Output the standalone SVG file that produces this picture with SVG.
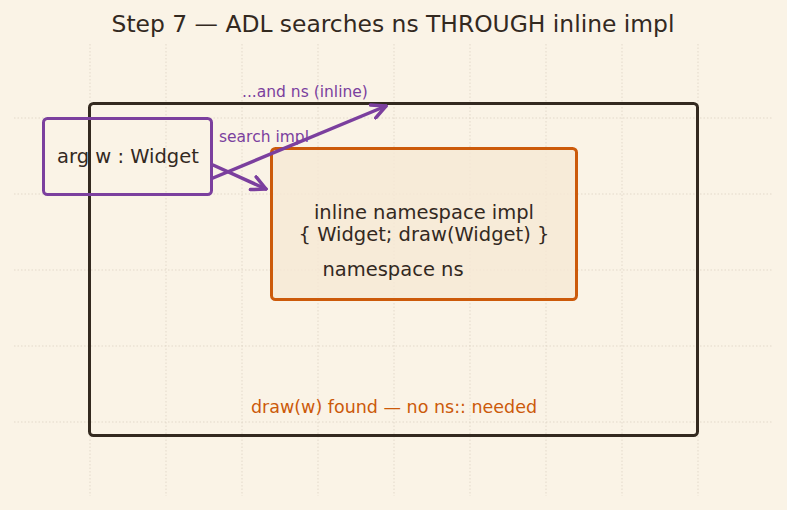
<svg xmlns="http://www.w3.org/2000/svg" width="787" height="510" viewBox="0 0 787 510">
<defs>
<style>
.grid line{stroke:#d9cfbf;stroke-width:0.7;stroke-dasharray:1.5 2}
text{font-family:"DejaVu Sans","Liberation Sans",sans-serif}
.title{font-size:23.4px;fill:#33291f;text-anchor:middle}
.node{font-size:19.5px;fill:#33291f;text-anchor:middle}
.lbl{font-size:15.5px;fill:#7b3f9e}
.conn{stroke:#7b3f9e;stroke-width:3.5;fill:none;stroke-linecap:round}
</style>
<marker id="ah" viewBox="0 0 10 10" refX="9" refY="5" markerWidth="5" markerHeight="5" orient="auto" markerUnits="strokeWidth">
<path d="M1,1 L9,5 L1,9" fill="none" stroke="#7b3f9e" stroke-width="2" stroke-linecap="round" stroke-linejoin="round"/>
</marker>
</defs>
<rect width="787" height="510" fill="#faf3e6"/>
<g class="grid">
<line x1="90" y1="44" x2="90" y2="496"/><line x1="166" y1="44" x2="166" y2="496"/><line x1="242" y1="44" x2="242" y2="496"/><line x1="318" y1="44" x2="318" y2="496"/><line x1="394" y1="44" x2="394" y2="496"/><line x1="470" y1="44" x2="470" y2="496"/><line x1="546" y1="44" x2="546" y2="496"/><line x1="622" y1="44" x2="622" y2="496"/><line x1="698" y1="44" x2="698" y2="496"/>
<line x1="14" y1="118" x2="773" y2="118"/><line x1="14" y1="194" x2="773" y2="194"/><line x1="14" y1="270" x2="773" y2="270"/><line x1="14" y1="346" x2="773" y2="346"/><line x1="14" y1="422" x2="773" y2="422"/>
</g>
<text class="title" x="393" y="32">Step 7 — ADL searches ns THROUGH inline impl</text>
<g id="ns">
<rect x="89.5" y="103.5" width="608" height="332" rx="4" fill="none" stroke="#33291f" stroke-width="3"/>
</g>
<g id="impl">
<rect x="271.5" y="148.5" width="305" height="151" rx="4" fill="#f6e8d4" fill-opacity="0.8" stroke="#cc5a0a" stroke-width="3"/>
<text class="node" x="424" y="219">inline namespace impl</text>
<text class="node" x="424" y="241">{ Widget; draw(Widget) }</text>
</g>
<g id="ns-label">
<text class="node" x="393" y="276">namespace ns</text>
</g>
<g id="arg">
<rect x="43.5" y="118.5" width="168" height="76" rx="4" fill="none" stroke="#7b3f9e" stroke-width="3"/>
<text class="node" x="128" y="163">arg w : Widget</text>
</g>
<g id="note">
<text x="394" y="413" style="font-size:17.5px;fill:#cc5a0a;text-anchor:middle">draw(w) found — no ns:: needed</text>
</g>
<g id="connectors">
<line class="conn" x1="213" y1="178" x2="386" y2="106" marker-end="url(#ah)"/>
<line class="conn" x1="213" y1="165" x2="266" y2="189" marker-end="url(#ah)"/>
<text class="lbl" x="242" y="97">...and ns (inline)</text>
<text class="lbl" x="219" y="142">search impl</text>
</g>
</svg>
